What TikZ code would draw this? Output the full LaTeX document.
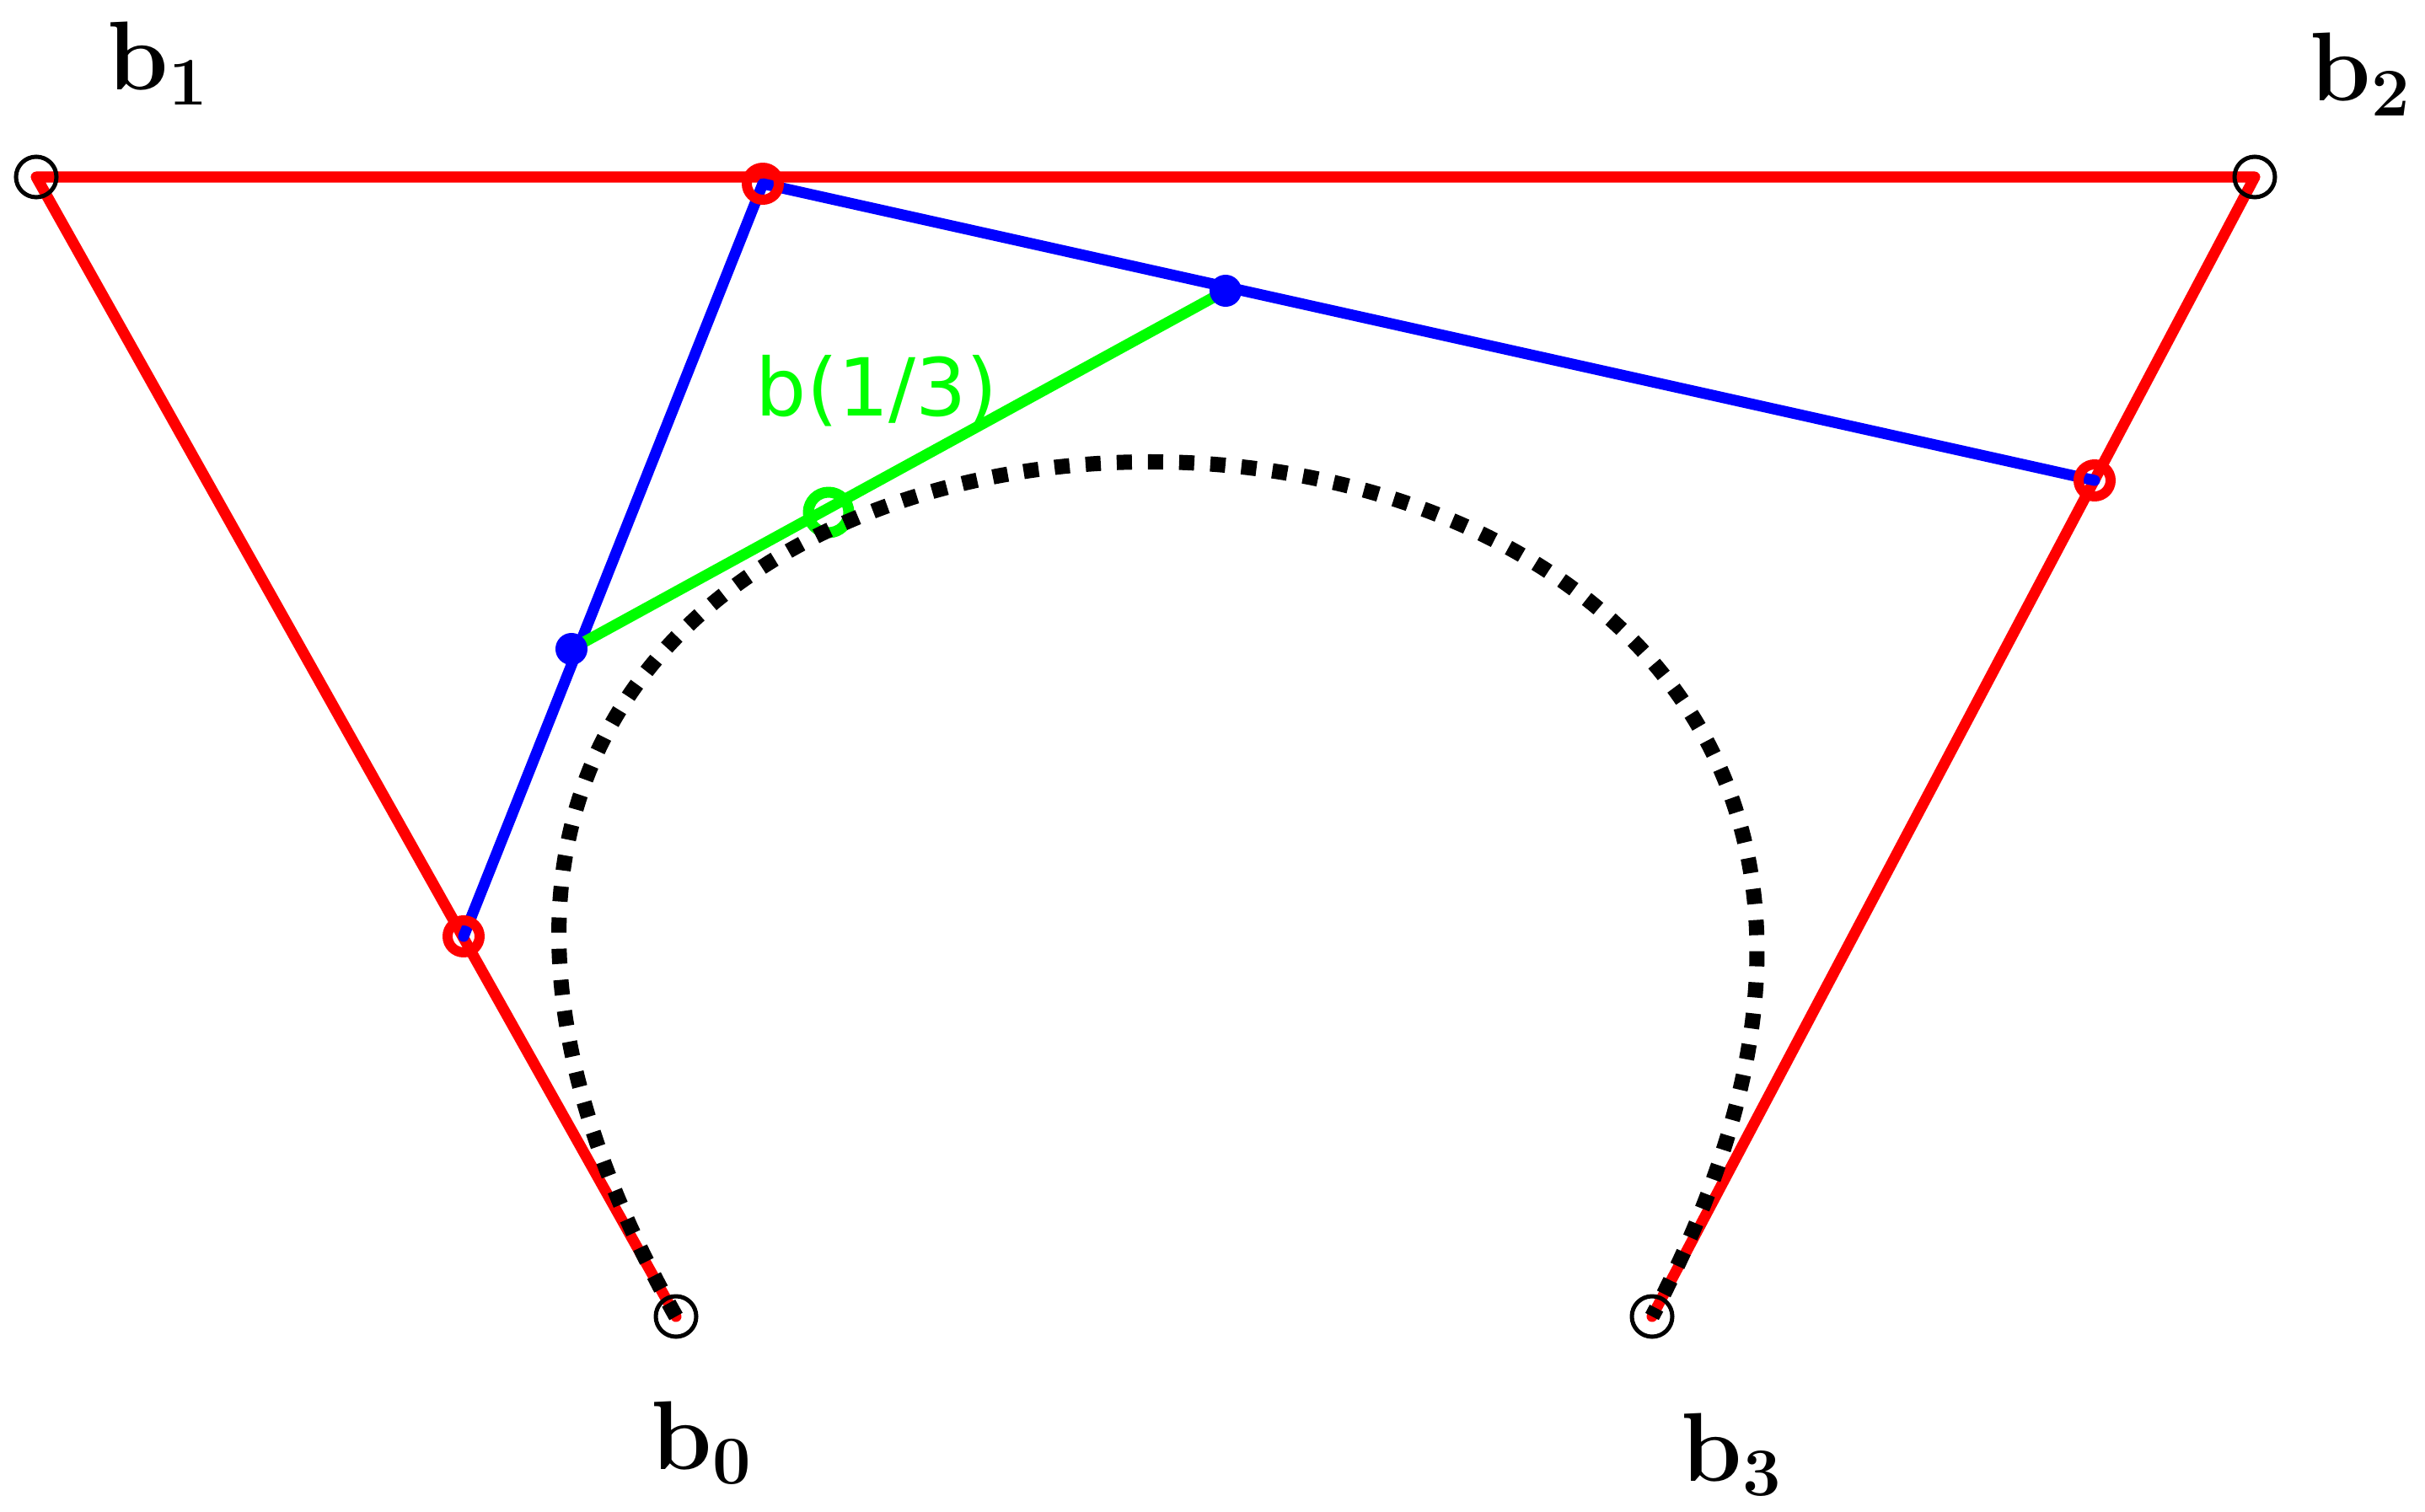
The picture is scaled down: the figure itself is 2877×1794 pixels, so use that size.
\documentclass[tikz,border=0pt]{standalone}
\usepackage{fontspec}
\newfontfamily\labelfont{DejaVu Sans}
\usepackage{tikz}
\definecolor{polyred}{HTML}{FF0000}
\definecolor{polyblue}{HTML}{0000FF}
\definecolor{polygreen}{HTML}{00FF00}
\tikzset{
  ptlabel/.style={font=\fontsize{33}{40}\selectfont\bfseries, inner sep=0pt, anchor=base west},
  ctrlring/.style={draw=black, line width=0.05cm},
  redmark/.style={draw=polyred, line width=0.12cm},
  bluemark/.style={fill=polyblue},
  greenmark/.style={draw=polygreen, line width=0.13cm}
}
\newcommand{\ctrlpt}[1]{%
  \draw[ctrlring] (#1) circle (0.24cm);
}
\newcommand{\bsub}[1]{b\raisebox{-5pt}{\fontsize{23}{25}\selectfont\bfseries #1}}

\begin{document}
\begin{tikzpicture}[x=0.01cm, y=-0.01cm, line join=round, line cap=round]
  \useasboundingbox (0,0) rectangle (2877,1794);

  %% control polygon
  \coordinate (b0) at (802,1562);
  \coordinate (b1) at (43,210);
  \coordinate (b2) at (2675,210);
  \coordinate (b3) at (1960,1562);

  %% de Casteljau steps
  \coordinate (b01) at (550,1111);
  \coordinate (b11) at (905,218);
  \coordinate (b21) at (2485,570);
  \coordinate (b02) at (678,770);
  \coordinate (b12) at (1454,345);
  \coordinate (b03) at (983,608);

  \draw[polyred, line width=0.13cm] (b0) -- (b1) -- (b2) -- (b3);
  \draw[polyblue, line width=0.13cm] (b01) -- (b11) -- (b21);
  \draw[polygreen, line width=0.13cm] (b02) -- (b12);

  \draw[redmark] (b01) circle (0.19cm);
  \draw[redmark] (b11) circle (0.19cm);
  \draw[redmark] (b21) circle (0.19cm);
  \fill[bluemark] (b02) circle (0.19cm);
  \fill[bluemark] (b12) circle (0.19cm);
  \draw[greenmark] (b03) circle (0.24cm);

  %% the curve
  \draw[black, line width=0.18cm, line cap=butt, dash pattern=on 0.18cm off 0.19cm]
    (b0) .. controls (b1) and (b2) .. (b3);

  \ctrlpt{b0}
  \ctrlpt{b1}
  \ctrlpt{b2}
  \ctrlpt{b3}

  %% labels
  \node[ptlabel] (lb0) at (772,1743) {\bsub{0}};
  \node[ptlabel] (lb1) at (127,107) {\bsub{1}};
  \node[ptlabel] (lb2) at (2740,120) {\bsub{2}};
  \node[ptlabel] (lb3) at (1994,1757) {\bsub{3}};
  \node[ptlabel, font=\labelfont\fontsize{27}{31}\selectfont, text=polygreen]
    (lt) at (896,493) {b(1/3)};

\end{tikzpicture}
\end{document}
